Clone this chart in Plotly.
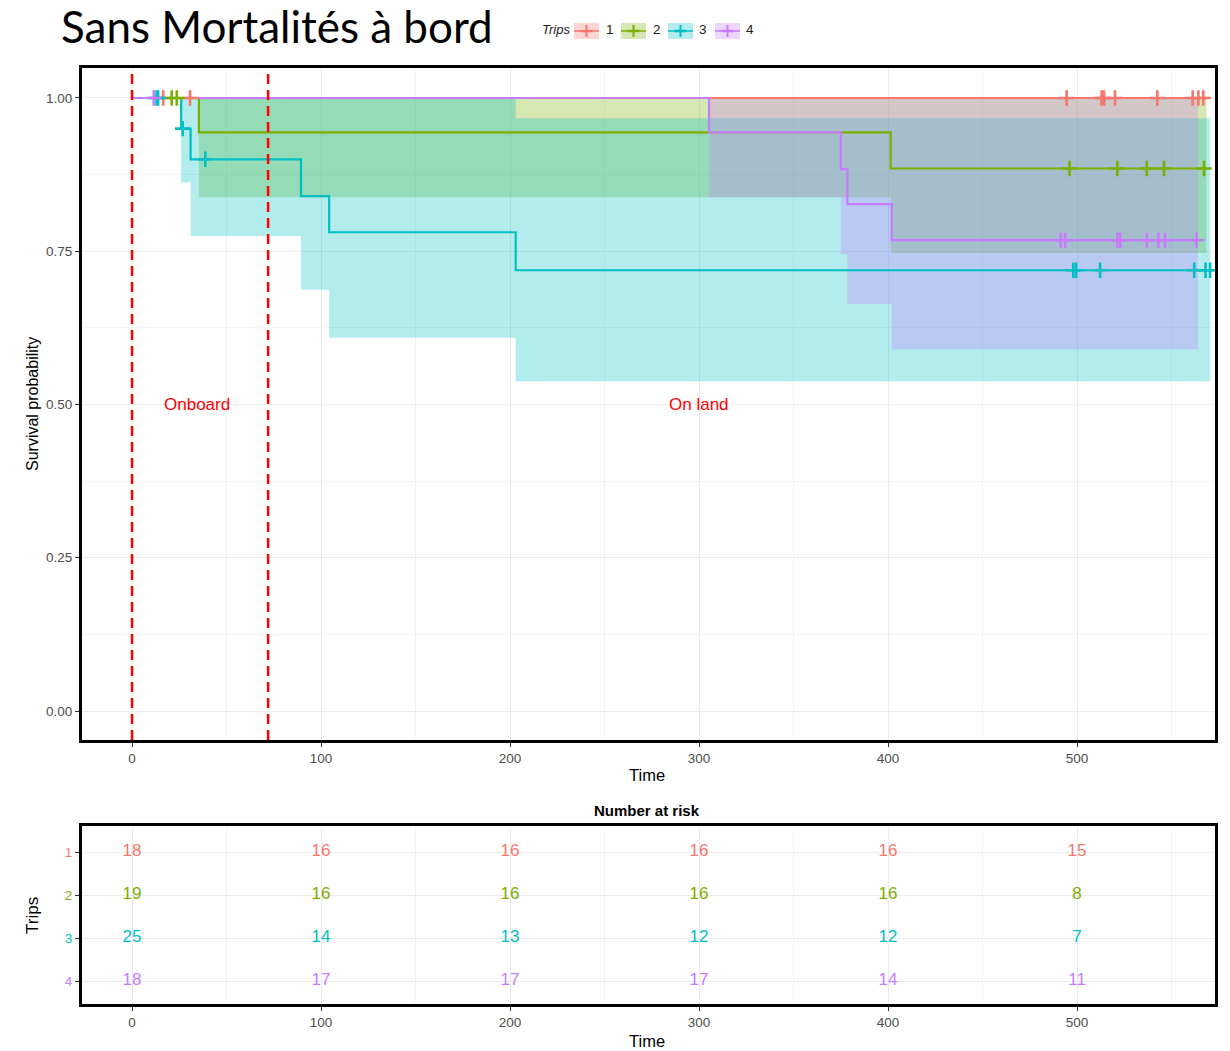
import plotly.graph_objects as go

W, H = 1230, 1051

# ---------------- data ----------------
trip_names = ["1", "2", "3", "4"]
trip_colors = ["#F8766D", "#7CAE00", "#00BFC4", "#C77CFF"]

# Trip 1
t1_time = [0.0]
t1_surv = [1.0]
t1_lower = [1.0]
t1_upper = [1.0]
t1_end = 567.5
t1_censor = [16.5, 30.7, 494.5, 513.0, 514.3, 520.1, 542.5, 561.2, 564.2, 566.8]

# Trip 2
t2_time = [0.0, 35.4, 401.4]
t2_surv = [1.0, 0.944, 0.885]
t2_lower = [1.0, 0.838, 0.747]
t2_upper = [1.0, 1.0, 1.0]
t2_end = 568.5
t2_censor = [21.0, 23.7, 496.0, 521.3, 536.9, 546.0, 567.2]

# Trip 3
t3_time = [0.0, 26.0, 31.0, 89.4, 104.3, 203.0]
t3_surv = [1.0, 0.950, 0.900, 0.840, 0.781, 0.719]
t3_lower = [1.0, 0.862, 0.775, 0.687, 0.609, 0.538]
t3_upper = [1.0, 1.0, 1.0, 1.0, 1.0, 0.967]
t3_end = 570.5
t3_censor = [13.0, 13.8, 26.8, 38.8, 498.0, 499.5, 512.2, 562.0, 568.0, 570.4]

# Trip 4
t4_time = [0.0, 305.3, 375.0, 378.5, 402.0]
t4_surv = [1.0, 0.944, 0.884, 0.827, 0.768]
t4_lower = [1.0, 0.838, 0.745, 0.664, 0.590]
t4_upper = [1.0, 1.0, 1.0, 1.0, 1.0]
t4_end = 564.0
t4_censor = [11.5, 491.4, 493.7, 521.3, 522.8, 536.9, 543.0, 546.6, 563.3]

# Number at risk table
risk_times = [0, 100, 200, 300, 400, 500]
risk_1 = [18, 16, 16, 16, 16, 15]
risk_2 = [19, 16, 16, 16, 16, 8]
risk_3 = [25, 14, 13, 12, 12, 7]
risk_4 = [18, 17, 17, 17, 14, 11]

# reference lines and labels
phase_lines = [0, 72]
phase_labels = ["Onboard", "On land"]
phase_label_x = [34.4, 300.0]
phase_label_y = [0.5, 0.5]

x_ticks = [0, 100, 200, 300, 400, 500]
y_ticks = [0.0, 0.25, 0.50, 0.75, 1.00]
y_ticklabels = ["0.00", "0.25", "0.50", "0.75", "1.00"]

trips = [
    (t1_time, t1_surv, t1_lower, t1_upper, t1_end, t1_censor),
    (t2_time, t2_surv, t2_lower, t2_upper, t2_end, t2_censor),
    (t3_time, t3_surv, t3_lower, t3_upper, t3_end, t3_censor),
    (t4_time, t4_surv, t4_lower, t4_upper, t4_end, t4_censor),
]
risks = [risk_1, risk_2, risk_3, risk_4]


# ---------------- helpers ----------------
def px(x):
    return x / W


def py(y):
    return 1 - y / H


def rgba(hexc, a):
    h = hexc.lstrip("#")
    r, g, b = int(h[0:2], 16), int(h[2:4], 16), int(h[4:6], 16)
    return f"rgba({r},{g},{b},{a})"


def step_xy(times, vals, end):
    xs, ys = [], []
    for i, t in enumerate(times):
        if i > 0:
            xs.append(t)
            ys.append(vals[i - 1])
        xs.append(t)
        ys.append(vals[i])
    xs.append(end)
    ys.append(vals[-1])
    return xs, ys


def value_at(times, vals, t):
    v = vals[0]
    for ti, vi in zip(times, vals):
        if ti <= t:
            v = vi
    return v


fig = go.Figure()

# confidence bands
for (tm, sv, lo, up, end, cen), col in zip(trips, trip_colors):
    ux, uy = step_xy(tm, up, end)
    lx, ly = step_xy(tm, lo, end)
    fig.add_trace(go.Scatter(
        x=ux + lx[::-1], y=uy + ly[::-1], fill="toself",
        fillcolor=rgba(col, 0.3), line=dict(width=0), mode="lines",
        hoverinfo="skip", showlegend=False, xaxis="x", yaxis="y"))

# survival curves
for (tm, sv, lo, up, end, cen), col in zip(trips, trip_colors):
    sx, sy = step_xy(tm, sv, end)
    fig.add_trace(go.Scatter(
        x=sx, y=sy, mode="lines", line=dict(color=col, width=2.2),
        showlegend=False, xaxis="x", yaxis="y"))

# censor marks
for (tm, sv, lo, up, end, cen), col in zip(trips, trip_colors):
    fig.add_trace(go.Scatter(
        x=cen, y=[value_at(tm, sv, c) for c in cen], mode="markers",
        marker=dict(symbol="cross-thin", size=11, color=col,
                    line=dict(color=col, width=2.6)),
        showlegend=False, xaxis="x", yaxis="y"))

# risk table numbers
for i, (rk, col) in enumerate(zip(risks, trip_colors)):
    fig.add_trace(go.Scatter(
        x=risk_times, y=[i + 1] * len(risk_times), mode="text",
        text=[str(v) for v in rk],
        textfont=dict(color=col, size=17, family="Liberation Sans"),
        showlegend=False, xaxis="x2", yaxis="y2"))

# ---------------- layout ----------------
x0, x1 = 82, 1215
main_top, main_bot = 68, 740
risk_top, risk_bot = 826, 1004

xr = [-26.46, 573.0]
tickfont = dict(family="Liberation Sans", size=13.5, color="#4D4D4D")
axis_common = dict(showline=True, linecolor="black", linewidth=3, mirror=True,
                   ticks="outside", ticklen=4, tickcolor="#333333", tickwidth=1,
                   zeroline=False, gridcolor="#EBEBEB", gridwidth=1,
                   tickfont=tickfont)

fig.update_layout(
    width=W, height=H,
    margin=dict(l=0, r=0, t=0, b=0),
    paper_bgcolor="white", plot_bgcolor="white",
    showlegend=False,
    xaxis=dict(domain=[px(x0), px(x1)], range=xr, tickvals=x_ticks,
               minor=dict(dtick=50, tick0=0, showgrid=True, gridcolor="#F3F3F3", gridwidth=1, ticks=""),
               anchor="y", **axis_common),
    yaxis=dict(domain=[py(main_bot), py(main_top)], range=[-0.0473, 1.0489],
               tickvals=y_ticks, ticktext=y_ticklabels,
               minor=dict(dtick=0.125, tick0=0, showgrid=True, gridcolor="#F3F3F3", gridwidth=1, ticks=""),
               anchor="x", **axis_common),
    xaxis2=dict(domain=[px(x0), px(x1)], range=xr, tickvals=x_ticks,
                minor=dict(dtick=50, tick0=0, showgrid=True, gridcolor="#F3F3F3", gridwidth=1, ticks=""),
                anchor="y2", **axis_common),
    yaxis2=dict(domain=[py(risk_bot), py(risk_top)], range=[4.535, 0.395],
                tickvals=[1, 2, 3, 4],
                ticktext=[f"<span style='color:{c}'>{n}</span>" for n, c in zip(trip_names, trip_colors)],
                anchor="x2", **axis_common),
)

shapes = []
for v in phase_lines:
    shapes.append(dict(type="line", xref="x", yref="y domain", x0=v, x1=v, y0=0, y1=1,
                       line=dict(color="#FF0000", width=2.5, dash="10px,6px"), layer="above"))

# manual legend
box_x = [(574, 599), (621, 646), (668, 693), (715, 740)]
lab_x = [610, 657, 703, 750]
by0, by1, bym = 23, 39, 31
for (bx0, bx1), col in zip(box_x, trip_colors):
    shapes.append(dict(type="rect", xref="paper", yref="paper", x0=px(bx0), x1=px(bx1),
                       y0=py(by1), y1=py(by0), fillcolor=rgba(col, 0.3), line=dict(width=0)))
    shapes.append(dict(type="line", xref="paper", yref="paper", x0=px(bx0), x1=px(bx1),
                       y0=py(bym), y1=py(bym), line=dict(color=col, width=1.5)))
    cx = (bx0 + bx1) / 2
    shapes.append(dict(type="line", xref="paper", yref="paper", x0=px(cx - 6), x1=px(cx + 6),
                       y0=py(bym), y1=py(bym), line=dict(color=col, width=2.5)))
    shapes.append(dict(type="line", xref="paper", yref="paper", x0=px(cx), x1=px(cx),
                       y0=py(bym - 6), y1=py(bym + 6), line=dict(color=col, width=2)))
fig.update_layout(shapes=shapes)


def paper_text(x, y, text, size, color="black", family="Liberation Sans", angle=0, xanchor="center"):
    return dict(x=px(x), y=py(y), xref="paper", yref="paper", text=text, textangle=angle,
                showarrow=False, xanchor=xanchor, yanchor="middle",
                font=dict(family=family, size=size, color=color))


ann = []
for lab, lx, ly in zip(phase_labels, phase_label_x, phase_label_y):
    ann.append(dict(x=lx, y=ly, xref="x", yref="y", text=lab, showarrow=False,
                    xanchor="center", yanchor="middle",
                    font=dict(family="Liberation Sans", size=17, color="#FF0000")))
ann.append(paper_text(59, 26, "Sans Mortalités à bord", 44, family="Lato", xanchor="left"))
ann.append(paper_text(556, 30, "<i>Trips</i>", 13, color="#222222"))
for n, lx in zip(trip_names, lab_x):
    ann.append(paper_text(lx, 30, n, 13.5, color="#222222"))
ann.append(paper_text(32, 404, "Survival probability", 16, angle=-90))
ann.append(paper_text(647, 775, "Time", 16.5))
ann.append(paper_text(647, 810, "<b>Number at risk</b>", 15))
ann.append(paper_text(32, 916, "Trips", 17, angle=-90))
ann.append(paper_text(647, 1041, "Time", 16.5))
fig.update_layout(annotations=ann)

fig.write_html("out.html", config={"displayModeBar": False},
               post_script="document.body.style.margin='0px';")
